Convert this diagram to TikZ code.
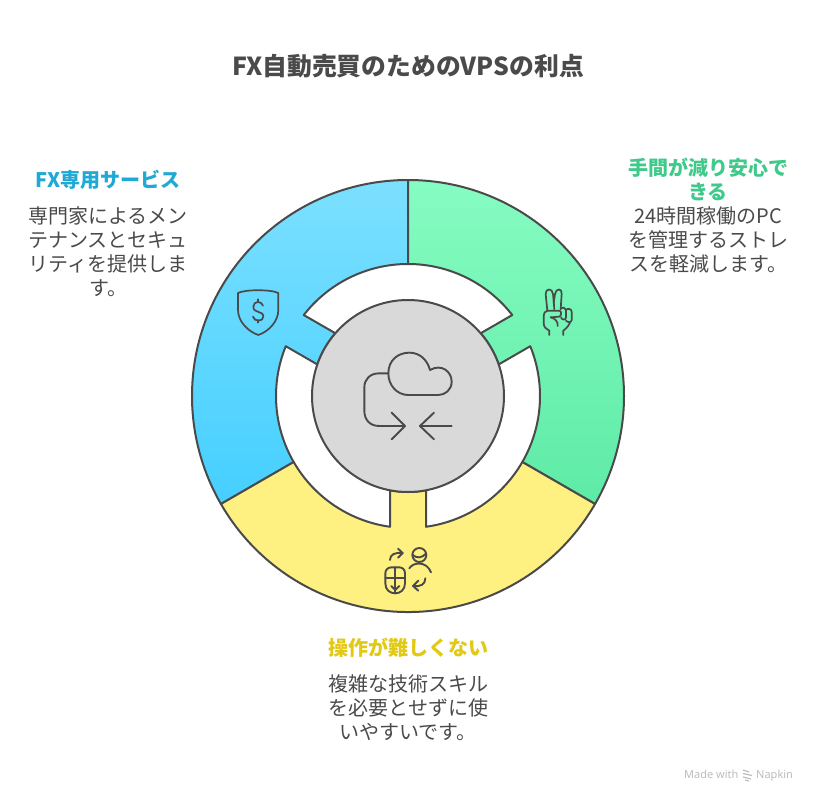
\documentclass[tikz,border=0pt]{standalone}
\usepackage{fontspec}
\setmainfont{Noto Sans CJK JP}
\newfontfamily\latinmark{Noto Sans}
\definecolor{ink}{HTML}{4A4A4A}
\definecolor{blueA}{HTML}{7CE0FF}
\definecolor{blueB}{HTML}{45CFFF}
\definecolor{greenA}{HTML}{86FCC2}
\definecolor{greenB}{HTML}{5EEBA6}
\definecolor{yellowA}{HTML}{FFF082}
\definecolor{hubgray}{HTML}{D9D9D9}
\definecolor{blueT}{HTML}{1EA9D6}
\definecolor{greenT}{HTML}{3FC98A}
\definecolor{yellowT}{HTML}{E2C914}
\definecolor{markgray}{HTML}{BDBDBD}
\tikzset{
  x=1pt,y=1pt,
  seg/.style={draw=ink,line width=2pt,line join=round},
  icon/.style={draw=ink,line width=1.9pt,line cap=round,line join=round},
  thinicon/.style={icon,line width=1.7pt},
  titletext/.style={font=\fontsize{24.8}{30}\selectfont\bfseries,text=ink,inner sep=0pt},
  headtext/.style={font=\fontsize{20}{24}\selectfont\bfseries,align=center,inner sep=0pt},
  bodytext/.style={font=\fontsize{20}{24}\selectfont,text=ink,align=center,inner sep=0pt},
  marktext/.style={font=\latinmark\fontsize{11}{13}\selectfont,text=markgray,anchor=base west,inner sep=0pt},
}
\begin{document}
\begin{tikzpicture}
\useasboundingbox (0,0) rectangle (816,-802);
\fill[white] (0,0) rectangle (816,-802);
\begin{scope}[shift={(408,-396)}]
  % blue
  \path[seg,top color=blueA,bottom color=blueB]
    (90:216) arc[start angle=90,end angle=210,radius=216]
    -- (210:132) arc[start angle=210,end angle=157.84,radius=132]
    -- (160.81:96) arc[start angle=160.81,end angle=139.19,radius=96]
    -- (142.16:132) arc[start angle=142.16,end angle=90,radius=132] -- cycle;
  % green
  \path[seg,top color=greenA,bottom color=greenB]
    (90:216) arc[start angle=90,end angle=-30,radius=216]
    -- (-30:132) arc[start angle=-30,end angle=22.16,radius=132]
    -- (19.19:96) arc[start angle=19.19,end angle=40.81,radius=96]
    -- (37.84:132) arc[start angle=37.84,end angle=90,radius=132] -- cycle;
  % yellow
  \path[seg,fill=yellowA]
    (210:216) arc[start angle=210,end angle=330,radius=216]
    -- (330:132) arc[start angle=330,end angle=277.84,radius=132]
    -- (280.81:96) arc[start angle=280.81,end angle=259.19,radius=96]
    -- (262.16:132) arc[start angle=262.16,end angle=210,radius=132] -- cycle;
  \path[seg,fill=hubgray] (0,0) circle[radius=96];
\end{scope}
% shield icon
\begin{scope}[shift={(180,-170)},x=0.3333pt,y=-0.3333pt]
  \draw[thinicon] (174,369) .. controls (195,358) and (273,358) .. (295,369)
    -- (295,420) .. controls (295,455) and (265,485) .. (235,495)
    .. controls (205,485) and (174,455) .. (174,420) -- cycle;
  \draw[thinicon] (249,407) .. controls (245,392) and (220,392) .. (220,410)
    .. controls (220,432) and (250,420) .. (250,440) .. controls (250,456) and (222,456) .. (219,440);
  \draw[thinicon] (234,388) -- (234,396) (234,450) -- (234,458);
\end{scope}
% victory hand
\begin{scope}[shift={(530,-280)},x=0.3333pt,y=-0.3333pt]
  \draw[thinicon] (52,92) -- (47,42) .. controls (46,24) and (68,24) .. (69,42) -- (73,88);
  \draw[thinicon] (71,70) -- (75,42) .. controls (78,24) and (97,24) .. (95,42) -- (92,88);
  \draw[thinicon] (54,92) -- (88,92) .. controls (95,92) and (95,108) .. (88,110) -- (62,112);
  \draw[thinicon] (52,92) .. controls (44,94) and (41,100) .. (41,108) -- (41,130)
    .. controls (41,142) and (50,148) .. (58,152) -- (58,165);
  \draw[thinicon] (92,85) .. controls (96,80) and (107,82) .. (108,90) -- (108,112);
  \draw[thinicon] (108,90) .. controls (112,84) and (125,86) .. (125,95) -- (125,120)
    .. controls (125,128) and (112,128) .. (108,122);
  \draw[thinicon] (108,112) .. controls (108,122) and (95,120) .. (93,112);
  \draw[thinicon] (120,128) .. controls (115,140) and (105,148) .. (100,152) -- (100,165);
  \draw[thinicon] (62,112) .. controls (75,115) and (85,125) .. (83,138);
\end{scope}
% cloud icon
\begin{scope}[shift={(350,-340)},x=0.3333pt,y=-0.3333pt]
  \draw[icon] (115,100) .. controls (115,60) and (145,38) .. (178,38)
    .. controls (210,38) and (232,60) .. (240,90)
    .. controls (275,70) and (305,95) .. (305,125)
    .. controls (305,150) and (285,165) .. (265,165) -- (175,165)
    .. controls (140,165) and (115,135) .. (115,100) -- cycle;
  \draw[icon] (115,100) -- (88,100) .. controls (60,100) and (43,118) .. (43,142)
    -- (43,212) .. controls (43,240) and (60,258) .. (88,258) -- (165,258);
  \draw[icon] (125,218) -- (165,258) -- (125,298);
  \draw[icon] (305,258) -- (210,258);
  \draw[icon] (252,218) -- (210,258) -- (252,298);
\end{scope}
% mouse/person icon
\begin{scope}[shift={(370,-535)},x=0.3333pt,y=-0.3333pt]
  \draw[icon] (60,75) .. controls (60,58) and (75,52) .. (97,54);
  \draw[icon] (84,41) -- (98,54) -- (84,68);
  \draw[icon] (148,60) circle[radius=21];
  \draw[icon] (128,60) .. controls (140,70) and (155,70) .. (168,56);
  \draw[icon] (118,100) .. controls (130,80) and (170,78) .. (183,112);
  \draw[icon] (46,115) .. controls (46,103) and (55,97) .. (65,97) -- (87,97)
    .. controls (97,97) and (105,103) .. (105,115) -- (105,145)
    .. controls (105,165) and (90,175) .. (76,175) .. controls (60,175) and (46,165) .. (46,145) -- cycle;
  \draw[icon] (76,97) -- (76,175);
  \draw[icon] (46,128) -- (105,128);
  \draw[icon] (64,153) -- (76,165) -- (88,153);
  \draw[icon] (166,130) .. controls (166,148) and (152,156) .. (130,153);
  \draw[icon] (145,137) -- (129,153) -- (145,167);
\end{scope}
% texts
\node[titletext] (title) at (408,-66) {FX自動売買のためのVPSの利点};
\node[headtext,text=blueT] (bluehead) at (108,-180) {FX専用サービス};
\node[bodytext] (bluebody) at (108,-252) {専門家によるメン\\テナンスとセキュ\\リティを提供しま\\す。};
\node[headtext,text=greenT] (greenhead) at (708,-179) {手間が減り安心で\\きる};
\node[bodytext] (greenbody) at (708,-240) {24時間稼働のPC\\を管理するストレ\\スを軽減します。};
\node[headtext,text=yellowT] (yellowhead) at (408,-648) {操作が難しくない};
\node[bodytext] (yellowbody) at (408,-708) {複雑な技術スキル\\を必要とせずに使\\いやすいです。};
% watermark
\node[marktext] (madewith) at (684,-778.5) {Made with};
\node[marktext] (napkin) at (756,-778.5) {Napkin};
\draw[markgray,line width=1.2pt] (743,-770) -- (749,-772) (743,-773.5) -- (752,-775.5) (743,-777) -- (751,-779) (745,-780) -- (749,-781);
\end{tikzpicture}
\end{document}
